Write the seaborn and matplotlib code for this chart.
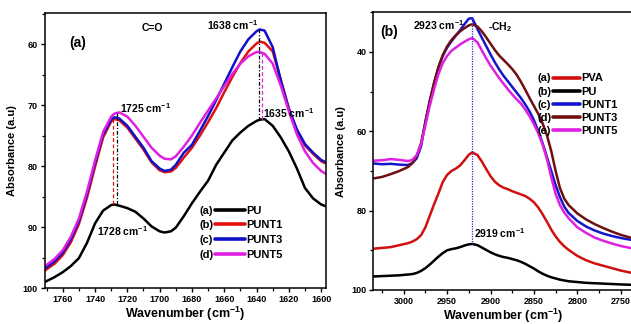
import pandas as pd
import seaborn as sns
from matplotlib import pyplot as plt
from matplotlib.lines import Line2D
from matplotlib.ticker import MultipleLocator

# Panel (a) - C=O region
wn_a = [1771, 1765, 1760, 1755, 1750, 1745, 1740, 1735, 1730, 1728, 1725, 1720, 1715,
        1710, 1705, 1700, 1697, 1693, 1690, 1685, 1680, 1675, 1670, 1665, 1660, 1655,
        1650, 1645, 1640, 1638, 1635, 1630, 1625, 1620, 1615, 1610, 1605, 1600, 1597]
pu_a = [99.0, 98.2, 97.4, 96.4, 95.1, 92.6, 89.4, 87.3, 86.4, 86.3, 86.5, 86.9, 87.5,
        88.6, 89.9, 90.7, 90.9, 90.7, 90.1, 88.2, 86.1, 84.2, 82.4, 79.8, 77.8, 75.8,
        74.5, 73.4, 72.6, 72.4, 72.3, 73.4, 75.3, 77.6, 80.4, 83.6, 85.3, 86.3, 86.6]
punt1_a = [97.1, 96.0, 94.6, 92.5, 89.5, 85.2, 80.1, 75.3, 72.7, 72.3, 72.5, 73.7, 75.5,
           77.3, 79.4, 80.7, 81.0, 80.9, 80.3, 78.6, 77.0, 75.0, 72.8, 70.5, 67.9, 65.4,
           63.1, 61.2, 59.9, 59.6, 59.8, 61.2, 65.8, 70.6, 74.2, 76.6, 78.0, 79.2, 79.6]
punt3_a = [96.8, 95.6, 94.2, 92.0, 89.0, 84.6, 79.5, 74.8, 72.4, 72.0, 72.2, 73.4, 75.2,
           77.0, 79.2, 80.4, 80.8, 80.6, 79.8, 77.8, 76.5, 74.2, 71.8, 69.2, 66.5, 63.8,
           61.2, 59.2, 57.9, 57.6, 57.8, 60.5, 66.0, 70.6, 74.0, 76.4, 77.8, 79.0, 79.4]
punt5_a = [96.4, 95.2, 93.8, 91.6, 88.6, 84.2, 79.1, 74.4, 71.9, 71.4, 71.2, 71.9, 73.4,
           75.2, 77.0, 78.3, 78.8, 78.9, 78.4, 76.8, 75.0, 72.9, 70.9, 68.9, 66.9, 64.9,
           63.2, 62.0, 61.3, 61.3, 61.6, 63.2, 66.8, 71.0, 74.8, 77.6, 79.5, 80.8, 81.3]
names_a = ["PU", "PUNT1", "PUNT3", "PUNT5"]
colors_a = ["black", "#e01010", "#1010c8", "#e020e0"]

# Panel (b) - CH2 region
wn_b = [3035, 3025, 3015, 3005, 2995, 2990, 2985, 2980, 2975, 2970, 2965, 2960, 2955,
        2950, 2945, 2940, 2935, 2930, 2925, 2921, 2915, 2910, 2905, 2900, 2895, 2890,
        2885, 2880, 2875, 2870, 2865, 2860, 2855, 2850, 2845, 2840, 2835, 2830, 2825,
        2820, 2815, 2810, 2800, 2790, 2780, 2770, 2760, 2750, 2737]
pva_b = [89.6, 89.4, 89.2, 88.7, 88.2, 87.8, 87.2, 86.2, 84.2, 81.3, 78.4, 75.7, 72.8,
         71.0, 70.0, 69.4, 68.6, 67.3, 65.9, 65.3, 66.0, 67.6, 69.5, 71.3, 72.7, 73.6,
         74.2, 74.6, 75.1, 75.5, 75.9, 76.3, 77.0, 77.9, 79.2, 80.9, 82.8, 84.8, 86.5,
         87.9, 89.0, 89.9, 91.4, 92.5, 93.3, 93.9, 94.5, 95.1, 95.7]
pu_b = [96.6, 96.5, 96.4, 96.3, 96.1, 96.0, 95.7, 95.2, 94.5, 93.6, 92.6, 91.6, 90.7,
        90.0, 89.7, 89.5, 89.2, 88.8, 88.5, 88.4, 88.7, 89.3, 89.9, 90.5, 91.0, 91.4,
        91.7, 91.9, 92.2, 92.5, 92.9, 93.4, 94.0, 94.6, 95.3, 95.9, 96.4, 96.8, 97.1,
        97.4, 97.6, 97.8, 98.0, 98.2, 98.3, 98.4, 98.5, 98.6, 98.7]
punt1_b = [68.1, 68.3, 68.2, 68.4, 68.5, 68.0, 66.8, 63.8, 57.5, 52.3, 47.8, 44.0, 41.0,
           38.9, 37.3, 35.9, 34.5, 33.0, 31.6, 31.5, 34.2, 36.4, 38.5, 40.6, 42.6, 44.4,
           46.0, 47.4, 48.8, 50.2, 51.6, 53.2, 55.0, 57.2, 59.9, 63.0, 66.5, 70.0, 73.6,
           76.6, 79.0, 80.6, 82.6, 84.0, 85.0, 85.8, 86.4, 86.9, 87.4]
punt3_b = [71.9, 71.5, 70.8, 70.0, 69.0, 68.0, 66.2, 63.0, 57.8, 52.5, 47.8, 43.8, 40.8,
           38.6, 37.0, 35.8, 34.8, 34.0, 33.3, 33.0, 33.6, 34.8, 36.3, 37.9, 39.5, 40.9,
           42.0, 43.1, 44.3, 45.7, 47.5, 49.5, 51.6, 53.6, 55.6, 58.0, 61.0, 65.0, 70.0,
           74.3, 77.0, 78.6, 80.7, 82.2, 83.4, 84.4, 85.3, 86.1, 86.9]
punt5_b = [67.4, 67.3, 67.0, 67.2, 67.5, 67.2, 66.0, 63.3, 58.5, 53.6, 49.4, 45.6, 42.8,
           41.0, 39.7, 38.9, 38.1, 37.4, 36.8, 36.5, 37.6, 39.6, 41.6, 43.4, 45.0, 46.6,
           48.0, 49.4, 50.7, 51.9, 53.0, 54.5, 56.2, 58.2, 60.5, 63.3, 67.0, 71.6, 75.8,
           78.6, 80.5, 81.9, 84.2, 85.6, 86.8, 87.6, 88.3, 88.9, 89.5]
names_b = ["PVA", "PU", "PUNT1", "PUNT3", "PUNT5"]
colors_b = ["#d01010", "black", "#1515cc", "#6e1010", "#e020e0"]

# Long-form tables
df_a = pd.concat([pd.DataFrame({"wn": wn_a, "abs": v, "sample": n})
                  for n, v in zip(names_a, [pu_a, punt1_a, punt3_a, punt5_a])])
df_b = pd.concat([pd.DataFrame({"wn": wn_b, "abs": v, "sample": n})
                  for n, v in zip(names_b, [pva_b, pu_b, punt1_b, punt3_b, punt5_b])])

sns.set_style("ticks")
plt.rcParams.update({
    "font.family": ["Liberation Sans", "DejaVu Sans"],
    "font.weight": "bold",
    "axes.labelweight": "bold",
    "text.color": "black",
    "axes.labelcolor": "black",
    "axes.edgecolor": "black",
    "xtick.color": "black",
    "ytick.color": "black",
    "mathtext.fontset": "custom",
    "mathtext.rm": "Liberation Sans:bold",
    "mathtext.bf": "Liberation Sans:bold",
    "mathtext.default": "bf",
    "axes.linewidth": 1.1,
    "xtick.direction": "out",
    "ytick.direction": "out",
    "xtick.major.size": 3, "ytick.major.size": 3,
    "xtick.minor.size": 2, "ytick.minor.size": 2,
    "xtick.major.width": 1.0, "ytick.major.width": 1.0,
    "xtick.minor.width": 0.9, "ytick.minor.width": 0.9,
})

fig = plt.figure(figsize=(6.31, 3.24), dpi=100)
ax1 = fig.add_axes([0.0713, 0.111, 0.4453, 0.849])
ax2 = fig.add_axes([0.5916, 0.105, 0.41, 0.857])

sns.lineplot(df_a, x="wn", y="abs", hue="sample", palette=colors_a, hue_order=names_a,
             lw=1.8, legend=False, ax=ax1)
sns.lineplot(df_b, x="wn", y="abs", hue="sample", palette=colors_b, hue_order=names_b,
             lw=1.8, legend=False, ax=ax2)

# Axes (a)
ax1.set_xlim(1771, 1597)
ax1.set_ylim(100, 54.9)
ax1.xaxis.set_major_locator(MultipleLocator(20))
ax1.xaxis.set_minor_locator(MultipleLocator(10))
ax1.yaxis.set_major_locator(MultipleLocator(10))
ax1.yaxis.set_minor_locator(MultipleLocator(5))

# Axes (b)
ax2.set_xlim(3035, 2737)
ax2.set_ylim(100, 30)
ax2.xaxis.set_major_locator(MultipleLocator(50))
ax2.xaxis.set_minor_locator(MultipleLocator(25))
ax2.yaxis.set_major_locator(MultipleLocator(20))
ax2.yaxis.set_minor_locator(MultipleLocator(10))

for ax in (ax1, ax2):
    ax.set_xlabel("Wavenumber (cm$^{-1}$)", fontsize=9, labelpad=0.5)
    ax.set_ylabel("Absorbance (a.u)", fontsize=8, labelpad=4)
    ax.tick_params(which="both", labelsize=6.5, pad=2)
    for s in ax.spines.values():
        s.set_visible(True)
        s.set_linewidth(1.1)

# Peak markers (a)
ax1.vlines(1729, 72.3, 86.3, colors="#e01010", linestyles=(0, (3, 2)), lw=0.9)
ax1.vlines(1726.3, 71.3, 86.3, colors="black", linestyles=(0, (3, 1.5, 1, 1.5)), lw=0.9)
ax1.vlines(1638.5, 57.6, 72.4, colors="black", linestyles=(0, (3, 1.5, 1, 1.5)), lw=0.9)
ax1.vlines(1636.5, 61.4, 72.4, colors="#e020e0", linestyles=(0, (3, 2)), lw=0.9)

tkw = dict(fontsize=7.5, fontweight="bold")
ax1.text(1750.6, 59.8, "(a)", fontsize=10, fontweight="bold", ha="center", va="center")
ax1.text(1704.3, 57.3, "C=O", ha="center", va="center", **tkw)
ax1.text(1654.9, 56.9, "1638 cm$^{-1}$", ha="center", va="center", **tkw)
ax1.text(1724.7, 70.5, "1725 cm$^{-1}$", ha="left", va="center", **tkw)
ax1.text(1636.2, 71.3, "1635 cm$^{-1}$", ha="left", va="center", **tkw)
ax1.text(1739.0, 90.6, "1728 cm$^{-1}$", ha="left", va="center", **tkw)

# Peak markers (b)
ax2.vlines(2921, 31.5, 88.4, colors="#3030d0", linestyles=(0, (1, 1)), lw=0.9)
ax2.text(3016.5, 35.0, "(b)", fontsize=10, fontweight="bold", ha="center", va="center")
ax2.text(2960, 33.3, "2923 cm$^{-1}$", ha="center", va="center", **tkw)
ax2.text(2888.5, 33.8, "-CH$_2$", ha="center", va="center", **tkw)
ax2.text(2919, 85.6, "2919 cm$^{-1}$", ha="left", va="center", **tkw)

# Legends "(x) ---- NAME": lines+names legend plus a tag legend to its left
def legend_with_tags(ax, names, colors, x_line, y_top, hlen, lsp):
    common = dict(frameon=False, fontsize=8, labelspacing=lsp, borderpad=0,
                  borderaxespad=0)
    lines = [Line2D([], [], color=c, lw=2.6) for c in colors]
    leg = ax.legend(lines, names, loc="upper left", bbox_to_anchor=(x_line, y_top),
                    handlelength=hlen, handletextpad=0.15, **common)
    ax.add_artist(leg)
    tags = ["(%s)" % c for c in "abcde"[:len(names)]]
    blanks = [Line2D([], [], color="none") for _ in names]
    tag_leg = ax.legend(blanks, tags, loc="upper right",
                        bbox_to_anchor=(x_line - 0.004, y_top),
                        handlelength=0, handletextpad=0, **common)
    for lg in (leg, tag_leg):
        for t in lg.get_texts():
            t.set_fontweight("bold")

legend_with_tags(ax1, names_a, colors_a, 0.605, 0.30, 2.7, 0.42)
legend_with_tags(ax2, names_b, colors_b, 0.695, 0.78, 2.4, 0.28)

fig.savefig("out.png", dpi=100)
